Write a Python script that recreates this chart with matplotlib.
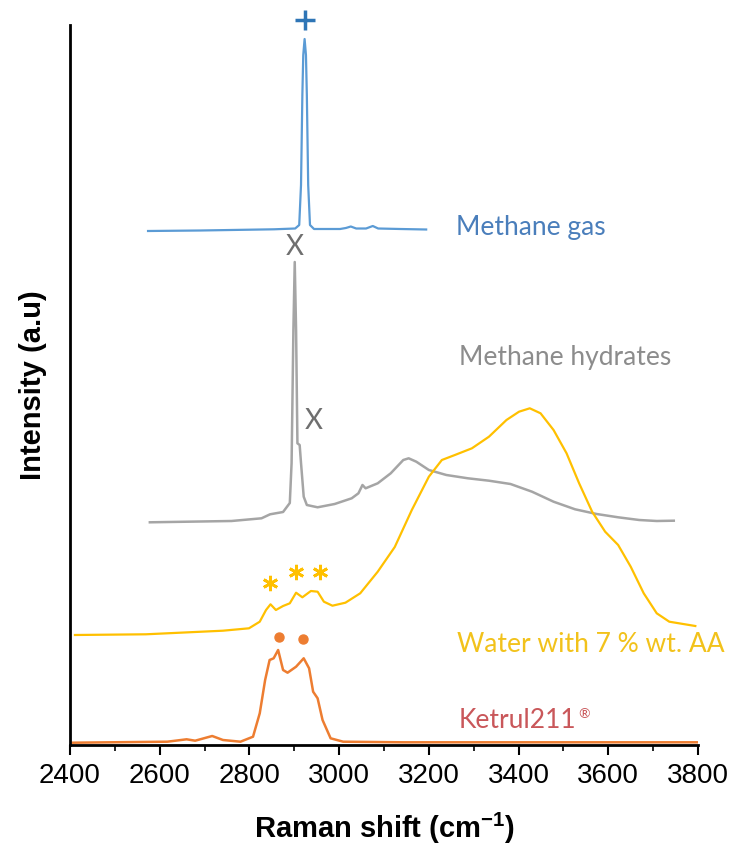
import numpy as np
import matplotlib
matplotlib.use("Agg")
import matplotlib.pyplot as plt
from matplotlib.ticker import MultipleLocator

# Raman spectra, intensities (stacked, arbitrary units)
gas_x = [2574, 2690, 2855, 2902, 2911, 2915, 2918, 2920, 2923, 2926, 2928, 2931, 2935, 2944,
         3002, 3015, 3026, 3038, 3060, 3075, 3087, 3136, 3194]
gas_y = [514, 514.5, 515.7, 516.5, 520, 560, 650, 690, 706, 690, 650, 560, 520, 516,
         516, 517, 518.5, 516.5, 516.5, 519, 516.5, 516, 515.5]

hyd_x = [2578, 2760, 2827, 2846, 2875, 2890, 2894, 2898, 2901, 2904, 2907, 2912, 2915, 2921,
         2928, 2952, 2990, 3028, 3043, 3052, 3059, 3086, 3115, 3143, 3155, 3172, 3200, 3239,
         3287, 3334, 3382, 3430, 3478, 3526, 3574, 3622, 3669, 3708, 3746]
hyd_y = [222.7, 224, 226.7, 230.7, 233, 242, 282, 415, 483, 415, 301.7, 300, 282, 248.3,
         240, 237.7, 241, 246.7, 251.7, 260, 256.7, 261.7, 271.7, 285, 286.7, 283.3, 275, 270,
         266.7, 264.3, 261, 253.3, 243.3, 235.7, 231, 227.7, 225, 224, 224.3]

wat_x = [2411, 2569, 2741, 2799, 2823, 2837, 2847, 2859, 2875, 2890, 2904, 2918, 2937, 2952,
         2966, 2985, 3014, 3047, 3086, 3124, 3162, 3200, 3229, 3258, 3296, 3334, 3373, 3401,
         3425, 3449, 3478, 3507, 3535, 3564, 3593, 3622, 3650, 3679, 3708, 3736, 3794]
wat_y = [110, 110.7, 114.3, 116.7, 123.3, 135, 140.7, 135, 139, 141.7, 152.3, 147.7, 154, 153.3,
         143.3, 139.3, 142.3, 151.7, 173.3, 198, 235, 268.3, 285, 290, 296.7, 308.3, 325, 333.3,
         336.7, 331.7, 315, 291.7, 261.7, 233.3, 213.3, 200, 178.3, 151.7, 131.7, 123.3, 119]

ket_x = [2406, 2617, 2660, 2679, 2717, 2741, 2780, 2808, 2823, 2835, 2845, 2854, 2864, 2875,
         2885, 2904, 2921, 2933, 2942, 2952, 2963, 2981, 3009, 3143, 3798]
ket_y = [2.3, 3.3, 5.7, 4.3, 9, 5, 3.3, 8.3, 31.7, 65, 85, 86.7, 95, 75,
         72.3, 78.3, 86.7, 76.7, 53.3, 46.7, 25, 6.7, 3.3, 2.7, 2.7]

# peak markers
plus_x = [2924]
plus_y = [725]
x_pos = [(2901, 498), (2944, 324)]
star_x = [2845, 2904, 2957]
star_y = [162, 173, 173]
dot_x = [2866, 2920]
dot_y = [108, 106]

labels = ["Methane gas", "Methane hydrates", "Water with 7 % wt. AA", "Ketrul211"]
label_x = [3260, 3267, 3263, 3267]
label_y = [518, 388, 101, 25]

c_gas = "#5B9BD5"
c_hyd = "#A5A5A5"
c_wat = "#FFC000"
c_ket = "#ED7D31"
label_cols = ["#4A7EBB", "#8C8C8C", "#F2C21B", "#C9575A"]

fig = plt.figure(figsize=(7.33, 8.47), dpi=100)
ax = fig.add_axes([70 / 733, 102 / 847, 628 / 733, 720 / 847])

ax.plot(gas_x, gas_y, color=c_gas, lw=1.6)
ax.plot(hyd_x, hyd_y, color=c_hyd, lw=1.8)
ax.plot(wat_x, wat_y, color=c_wat, lw=1.6)
ax.plot(ket_x, ket_y, color=c_ket, lw=1.8)

lab_font = ["Lato", "DejaVu Sans"]
ax.plot(plus_x, plus_y, "+", color="#2E75B6", ms=14, mew=2.5, ls="none", clip_on=False)
for (px, py) in x_pos:
    ax.text(px, py, "X", color="#6F6F6F", fontsize=20, ha="center", va="center", family=lab_font)
ax.plot(star_x, star_y, marker=(6, 2, 0), color=c_wat, ms=11, mew=2, ls="none")
ax.plot(dot_x, dot_y, "o", color=c_ket, ms=6.5, ls="none")

for t, lx, ly, lc in zip(labels, label_x, label_y, label_cols):
    txt = ax.text(lx, ly, t, color=lc, fontsize=19, ha="left", va="center", family=lab_font, clip_on=False)
# registered-trademark sign after Ketrul211
ax.annotate("®", xy=(1, 0.72), xycoords=txt, color=label_cols[3], fontsize=10,
            ha="left", va="center", family=lab_font, xytext=(1, 0), textcoords="offset points")

ax.set_xlim(2400, 3800)
ax.set_ylim(0, 720)
ax.xaxis.set_major_locator(MultipleLocator(200))
ax.xaxis.set_minor_locator(MultipleLocator(100))
ax.set_yticks([])
for s in ["top", "right"]:
    ax.spines[s].set_visible(False)
ax.spines["left"].set_linewidth(2)
ax.spines["bottom"].set_linewidth(2)
ax.tick_params(axis="x", which="major", length=7, width=1.5, direction="out", pad=6)
ax.tick_params(axis="x", which="minor", length=4, width=1.2, direction="out")
for lbl in ax.get_xticklabels():
    lbl.set_family(["Liberation Sans Narrow", "Liberation Sans"])
    lbl.set_fontsize(20)

fig.text(385 / 733, 19 / 847, "Raman shift (cm$^{\\mathregular{-1}}$)", ha="center", va="center", fontsize=21,
         fontweight="bold", family=["Liberation Sans", "DejaVu Sans"])
fig.text(33 / 733, 462 / 847, "Intensity (a.u)", ha="center", va="center", rotation=90, fontsize=21,
         fontweight="bold", family=["Liberation Sans", "DejaVu Sans"])

fig.savefig("out.png", dpi=100)
